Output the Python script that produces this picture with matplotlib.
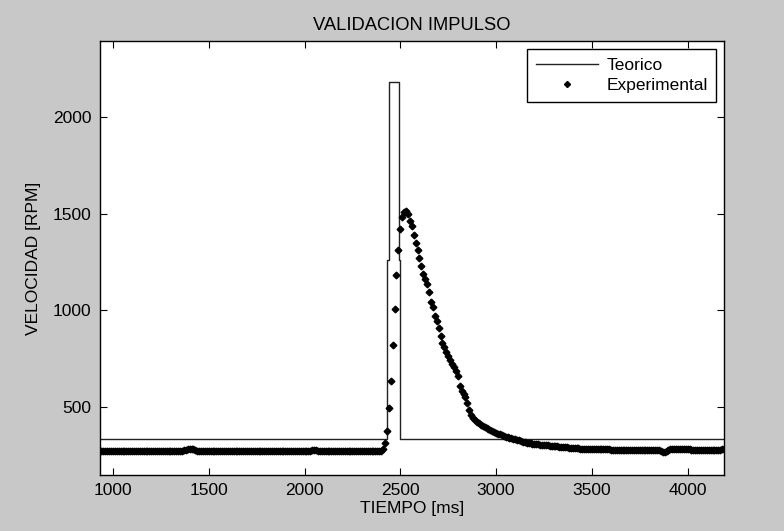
import numpy as np
import matplotlib.pyplot as plt

# theoretical response (vertical steps -> repeated times)
t_teo = [930, 2430, 2430, 2439, 2439, 2491, 2491, 2497, 2497, 4190]
v_teo = [332, 332, 1260, 1260, 2183, 2183, 1260, 1260, 332, 332]

# experimental samples every 10 ms, from 930 ms to 4190 ms
t_ini, t_fin, dt = 930, 4190, 10
v_exp = [
    272, 271, 272, 272, 271, 272, 272, 271, 272, 272,
    272, 271, 272, 272, 272, 271, 272, 272, 271, 272,
    272, 272, 271, 272, 273, 272, 271, 272, 272, 272,
    271, 272, 272, 272, 271, 272, 272, 271, 272, 272,
    272, 271, 272, 273, 275, 277, 280, 281, 282, 280,
    276, 273, 272, 271, 272, 272, 271, 272, 272, 271,
    272, 272, 271, 272, 272, 272, 271, 272, 272, 272,
    271, 272, 272, 271, 272, 272, 272, 271, 272, 272,
    272, 271, 272, 272, 271, 272, 272, 272, 271, 272,
    272, 271, 272, 272, 272, 271, 272, 272, 271, 272,
    272, 272, 271, 272, 272, 271, 272, 272, 272, 273,
    274, 276, 277, 276, 274, 272, 271, 272, 272, 271,
    272, 272, 271, 272, 272, 272, 271, 272, 272, 271,
    272, 272, 272, 271, 272, 272, 271, 272, 272, 272,
    271, 272, 272, 272, 272, 272, 273, 274,
    280, 312, 376, 493, 636, 821, 1006, 1183, 1313, 1420,
    1485, 1510, 1513, 1498, 1465, 1437, 1390, 1350, 1312, 1270,
    1231, 1191, 1164, 1135, 1094, 1045, 1016, 972, 947, 909,
    869, 832, 812, 786, 764, 745, 725, 705, 687, 660,
    610, 585, 565, 552, 522, 484, 458, 444, 432, 424,
    416, 409, 401, 396, 391, 386, 381, 376, 371, 366,
    362, 358, 354, 350, 347, 345, 342, 338, 335, 332,
    329, 327, 324, 321, 318, 316, 313, 311, 310, 308,
    307, 306, 305, 304, 303, 302, 301, 300, 299, 298,
    297, 296, 295, 294, 293, 292, 291, 290, 289, 288,
    287, 287, 286, 285, 285, 284, 284, 283, 283, 282,
    282, 282, 281, 281, 281, 280, 280, 280, 280, 279,
    279, 279, 279, 279, 278, 279, 278, 278, 279, 278,
    278, 278, 279, 278, 278, 278, 279, 278, 278, 278,
    279, 278, 278, 277, 276, 272, 269, 268, 270, 275,
    281, 283, 284, 283, 284, 283, 282, 283, 284, 283,
    280, 278, 277, 278, 277, 278, 277, 278, 277, 278,
    278, 277, 278, 278, 277, 278, 279, 281, 282,
]
t_exp = np.arange(t_ini, t_fin + dt, dt)

plt.rcParams['font.family'] = ['Liberation Sans', 'DejaVu Sans']
plt.rcParams['font.size'] = 12.5

fig = plt.figure(figsize=(7.84, 5.31), dpi=100, facecolor='#c8c8c8')
ax = fig.add_axes([0.127, 0.1055, 0.7965, 0.8173])
ax.plot(t_teo, v_teo, color='#222222', lw=1.0, label='Teorico')
ax.plot(t_exp, v_exp, ls='none', marker='D', ms=3.4, color='black', label='Experimental')

ax.set_xlim(t_ini, t_fin)
ax.set_ylim(148, 2395)
ax.set_xticks([1000, 1500, 2000, 2500, 3000, 3500, 4000])
ax.set_yticks([500, 1000, 1500, 2000])
ax.tick_params(direction='in', length=5, top=True, right=True, pad=6)
for s in ax.spines.values():
    s.set_linewidth(1.0)

ax.set_title('VALIDACION IMPULSO', fontsize=13.2, pad=8)
ax.set_xlabel('TIEMPO [ms]', labelpad=2)
ax.set_ylabel('VELOCIDAD [RPM]', labelpad=8)

leg = ax.legend(loc='upper right', fancybox=False, edgecolor='black', framealpha=1,
                handlelength=3.6, handletextpad=0.45, borderaxespad=0.45,
                borderpad=0.5, labelspacing=0.3, markerscale=0.9)
leg.get_frame().set_linewidth(1.0)

plt.savefig('out.png', facecolor=fig.get_facecolor())
